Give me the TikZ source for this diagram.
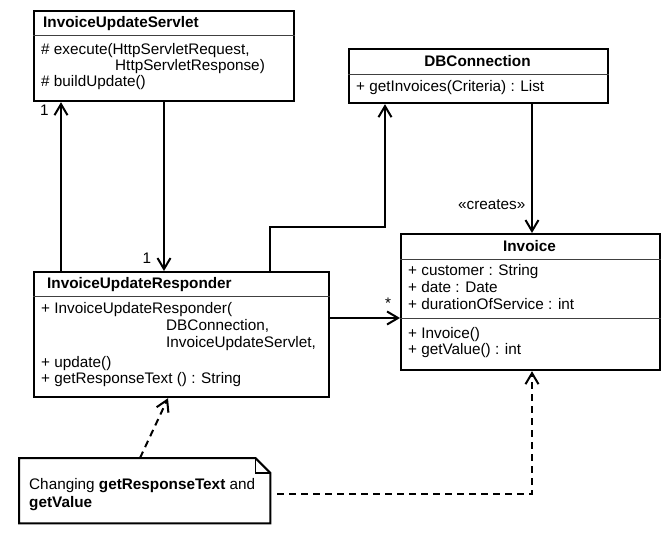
\documentclass[tikz,border=0pt]{standalone}
\usepackage{fontspec}
\setmainfont{Liberation Sans}
\usetikzlibrary{arrows.meta}
\begin{document}
\begin{tikzpicture}[x=1pt,y=-1pt,
  box/.style={draw,line width=2.2pt,rectangle,inner sep=0,anchor=north west},
  sep/.style={line width=1pt,black!75},
  txt/.style={anchor=base west,inner sep=0,font=\fontsize{15.3}{17}\selectfont},
  ttl/.style={anchor=base,inner sep=0,font=\fontsize{15.3}{17}\selectfont\bfseries},
  lbl/.style={anchor=base,inner sep=0,font=\fontsize{15.3}{17}\selectfont},
  conn/.style={line width=2pt,-{Straight Barb[length=11pt,width=13pt]}},
  dconn/.style={conn,dash pattern=on 7pt off 5pt}]
\useasboundingbox (0,0) rectangle (669,534);

% InvoiceUpdateServlet
\node[box,minimum width=260pt,minimum height=90pt] (serv) at (33,10) {};
\draw[sep] ([yshift=-26pt]serv.north west) -- ([yshift=-26pt]serv.north east);
\node[txt,font=\fontsize{15.3}{17}\selectfont\bfseries] (servt) at (43,28) {InvoiceUpdateServlet};
\node[txt] (serv1) at (41,55) {\# execute(HttpServletRequest,};
\node[txt] (serv2) at (115,71) {HttpServletResponse)};
\node[txt] (serv3) at (41,87) {\# buildUpdate()};

% DBConnection
\node[box,minimum width=259pt,minimum height=54pt] (db) at (348,48) {};
\draw[sep] ([yshift=-27pt]db.north west) -- ([yshift=-27pt]db.north east);
\node[ttl] (dbt) at (477.5,67) {DBConnection};
\node[txt] (db1) at (356,92) {+ getInvoices(Criteria) : List};

% Invoice
\node[box,minimum width=259pt,minimum height=136pt] (inv) at (400,233) {};
\draw[sep] ([yshift=-27pt]inv.north west) -- ([yshift=-27pt]inv.north east);
\draw[sep] ([yshift=-86pt]inv.north west) -- ([yshift=-86pt]inv.north east);
\node[ttl] (invt) at (529.5,252) {Invoice};
\node[txt] (inv1) at (408,276) {+ customer : String};
\node[txt] (inv2) at (408,293) {+ date : Date};
\node[txt] (inv3) at (408,310) {+ durationOfService : int};
\node[txt] (inv4) at (408,338) {+ Invoice()};
\node[txt] (inv5) at (408,355) {+ getValue() : int};

% InvoiceUpdateResponder
\node[box,minimum width=295pt,minimum height=125pt] (resp) at (33,271) {};
\draw[sep] ([yshift=-26pt]resp.north west) -- ([yshift=-26pt]resp.north east);
\node[txt,font=\fontsize{15.3}{17}\selectfont\bfseries] (respt) at (47,289) {InvoiceUpdateResponder};
\node[txt] (resp1) at (41,314) {+ InvoiceUpdateResponder(};
\node[txt] (resp2) at (166,331) {DBConnection,};
\node[txt] (resp3) at (166,348) {InvoiceUpdateServlet,};
\node[txt] (resp4) at (41,367) {+ update()};
\node[txt] (resp5) at (41,383) {+ getResponseText () : String};

% Note
\node[inner sep=0,minimum width=251pt,minimum height=65pt,anchor=north west] (note) at (19,458) {};
\draw[line width=2pt,fill=white] (note.north west) -- ([xshift=-15pt]note.north east)
  -- ([yshift=-15pt]note.north east) -- (note.south east) -- (note.south west) -- cycle;
\draw[line width=1.6pt] ([xshift=-15pt]note.north east) |- ([yshift=-15pt]note.north east);
\node[txt] (note1) at (29,489) {Changing \textbf{getResponseText} and};
\node[txt] (note2) at (29,507) {\textbf{getValue}};

% Connectors
\draw[conn] ([xshift=28pt]resp.north west) -- ([xshift=28pt]serv.south west);
\draw[conn] ([xshift=131pt]serv.south west) -- ([xshift=131pt]resp.north west);
\draw[conn] ([xshift=237pt]resp.north west) -- ++(0,-44) -| ([xshift=37pt]db.south west);
\draw[conn] ([xshift=184pt]db.south west) -- ([xshift=132pt]inv.north west);
\draw[conn] ([yshift=-47pt]resp.north east) -- ([yshift=-85pt]inv.north west);
\draw[dconn] ([xshift=121pt]note.north west) -- ([xshift=135pt]resp.south west);
\draw[dconn] ([xshift=7pt,yshift=-36pt]note.north east) -| ([xshift=132pt]inv.south west);

% Labels
\node[lbl] (m1) at (44.5,116) {1};
\node[lbl] (m2) at (147,264) {1};
\node[lbl] (m3) at (388,309) {*};
\node[txt] (cr) at (458,210) {«creates»};
\end{tikzpicture}
\end{document}
